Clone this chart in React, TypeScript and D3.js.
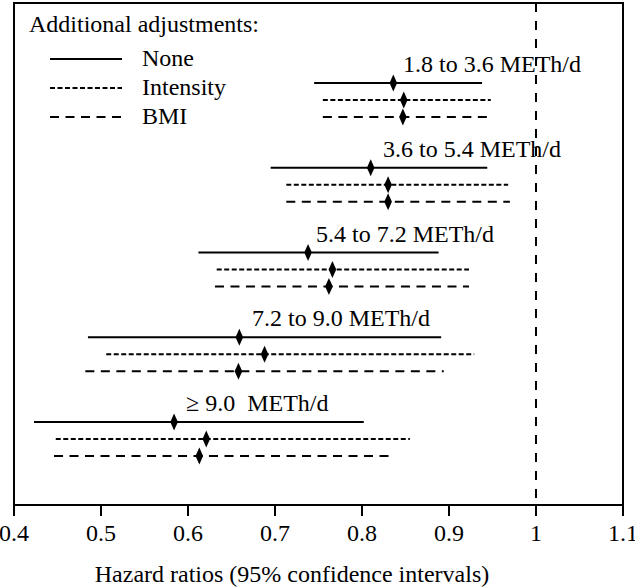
import React from "react";
import * as d3 from "d3";

const groups = ["1.8 to 3.6 METh/d", "3.6 to 5.4 METh/d", "5.4 to 7.2 METh/d", "7.2 to 9.0 METh/d", "\u2265 9.0  METh/d"];
const series = ["None", "Intensity", "BMI"];
// [lower, estimate, upper] per group, per series
const noneValues = [
  [0.745, 0.836, 0.938],
  [0.695, 0.81, 0.944],
  [0.612, 0.738, 0.888],
  [0.485, 0.659, 0.891],
  [0.423, 0.584, 0.802],
];
const intensityValues = [
  [0.755, 0.848, 0.948],
  [0.713, 0.83, 0.968],
  [0.633, 0.766, 0.923],
  [0.506, 0.688, 0.929],
  [0.448, 0.621, 0.855],
];
const bmiValues = [
  [0.755, 0.847, 0.951],
  [0.713, 0.83, 0.97],
  [0.631, 0.762, 0.923],
  [0.482, 0.658, 0.894],
  [0.446, 0.613, 0.838],
];
const xTicks = [0.4, 0.5, 0.6, 0.7, 0.8, 0.9, 1, 1.1];
const xTickLabels = ["0.4", "0.5", "0.6", "0.7", "0.8", "0.9", "1", "1.1"];
const labelX = [403, 383, 316, 252, 186];

const dashes = ["", "5 2.5", "9 6.5"];
const rowOffset = [0, 17, 34];

export default function App() {
  const W = 635, H = 588;
  const left = 14, right = 623, top = 3, bottom = 505;
  const x = d3.scaleLinear().domain([0.4, 1.1]).range([left, right]);
  const y = d3.scaleLinear().domain([0, 4]).range([83, 422]);
  const all = [noneValues, intensityValues, bmiValues];
  const font = '"Liberation Serif", "Times New Roman", Times, "DejaVu Serif", serif';
  const diamond = (cx: number, cy: number) =>
    `M${cx},${cy - 8.5}L${cx + 3.8},${cy}L${cx},${cy + 8.5}L${cx - 3.8},${cy}Z`;
  const ts = { fontFamily: font, fontSize: 24 } as React.CSSProperties;

  return (
    <svg width={W} height={H} style={{ position: "absolute", left: 0, top: 0, background: "#fff" }}>
      <rect x={0} y={0} width={W} height={H} fill="#fff" />
      <rect x={left} y={top} width={right - left} height={bottom - top} fill="none" stroke="#000" strokeWidth={2} />
      <line x1={x(1)} x2={x(1)} y1={top} y2={bottom} stroke="#000" strokeWidth={2} strokeDasharray="9 9" />
      {xTicks.map((t, i) => (
        <g key={i}>
          <line x1={x(t)} x2={x(t)} y1={bottom} y2={bottom + 11} stroke="#000" strokeWidth={2} />
          <text x={x(t)} y={541} textAnchor="middle" style={ts} fill="#000">{xTickLabels[i]}</text>
        </g>
      ))}
      <text x={292} y={582} textAnchor="middle" style={ts} fill="#000">Hazard ratios (95% confidence intervals)</text>
      <text x={29} y={32} style={ts} fill="#000">Additional adjustments:</text>
      {series.map((s, i) => (
        <g key={s}>
          <line x1={50} x2={122} y1={59 + i * 29} y2={59 + i * 29} stroke="#000" strokeWidth={2} strokeDasharray={dashes[i] || undefined} />
          <text x={142} y={66 + i * 29} style={ts} fill="#000">{s}</text>
        </g>
      ))}
      {groups.map((g, gi) => (
        <g key={g}>
          <text x={labelX[gi]} y={y(gi) - 11} style={{ ...ts, whiteSpace: "pre" }} fill="#000">{g}</text>
          {all.map((vals, si) => {
            const [lo, est, hi] = vals[gi];
            const cy = y(gi) + rowOffset[si];
            return (
              <g key={si}>
                <line x1={x(lo)} x2={x(hi)} y1={cy} y2={cy} stroke="#000" strokeWidth={2} strokeDasharray={dashes[si] || undefined} />
                <path d={diamond(x(est), cy)} fill="#000" />
              </g>
            );
          })}
        </g>
      ))}
    </svg>
  );
}
